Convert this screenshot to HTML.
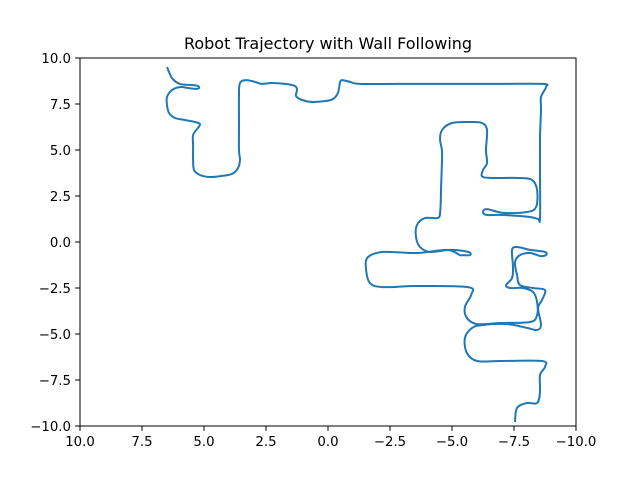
<!DOCTYPE html>
<html><head><meta charset="utf-8"><style>
body{margin:0;background:#fff}
svg{display:block;font-family:"DejaVu Sans","Liberation Sans",sans-serif}
</style></head><body>
<svg id="c" width="640" height="480"></svg>
<script>
const xs=[6.49,6.29,5.97,5.48,5.24,5.20,5.32,5.65,5.97,6.29,6.49,6.49,6.41,6.17,5.77,5.36,5.16,5.24,5.44,5.44,5.44,5.40,5.16,4.76,4.27,3.87,3.63,3.55,3.59,3.59,3.59,3.55,3.31,2.94,2.66,2.26,1.73,1.33,1.25,1.29,1.05,0.65,0.12,-0.20,-0.40,-0.48,-0.56,-0.89,-1.29,-2.90,-4.92,-6.94,-8.67,-8.79,-8.59,-8.59,-8.55,-8.55,-8.55,-8.47,-8.15,-7.06,-6.41,-6.25,-6.41,-7.06,-8.02,-8.39,-8.43,-8.23,-7.74,-6.94,-6.25,-6.25,-6.41,-6.37,-6.41,-6.21,-5.73,-5.00,-4.60,-4.52,-4.60,-4.56,-4.52,-4.40,-3.91,-3.59,-3.55,-3.71,-4.11,-4.92,-5.65,-5.73,-5.44,-5.32,-4.80,-3.59,-2.22,-1.61,-1.53,-1.69,-2.22,-3.59,-5.65,-5.77,-5.52,-5.60,-6.01,-6.94,-8.15,-8.43,-8.43,-8.27,-7.86,-7.34,-7.18,-7.42,-7.46,-7.42,-7.62,-8.15,-8.75,-8.79,-8.55,-8.15,-7.74,-7.54,-7.62,-7.74,-8.27,-8.75,-8.63,-8.47,-8.59,-8.43,-8.02,-7.22,-6.25,-5.81,-5.52,-5.60,-6.01,-6.94,-8.63,-8.75,-8.55,-8.55,-8.43,-8.02,-7.62,-7.54];
const ys=[9.51,8.91,8.59,8.53,8.48,8.37,8.32,8.37,8.42,8.26,7.88,7.45,7.01,6.74,6.63,6.52,6.41,6.20,5.82,5.27,4.46,3.91,3.64,3.53,3.59,3.70,4.02,4.46,5.00,6.36,7.99,8.64,8.80,8.70,8.59,8.64,8.59,8.48,8.26,7.93,7.72,7.61,7.66,7.77,8.10,8.64,8.80,8.70,8.59,8.59,8.59,8.59,8.59,8.42,7.88,7.17,5.71,3.91,1.30,1.25,1.36,1.47,1.47,1.63,1.79,1.58,1.63,1.90,2.83,3.37,3.48,3.48,3.53,3.91,4.29,5.00,6.09,6.47,6.52,6.47,6.09,5.54,4.84,2.99,1.58,1.30,1.30,0.92,0.27,-0.27,-0.54,-0.43,-0.54,-0.71,-0.71,-0.71,-0.43,-0.60,-0.54,-0.82,-1.41,-2.23,-2.45,-2.39,-2.45,-2.88,-3.53,-4.13,-4.46,-4.40,-4.35,-3.97,-3.26,-2.72,-2.50,-2.50,-2.34,-1.96,-1.36,-0.43,-0.27,-0.43,-0.54,-0.71,-0.76,-0.60,-0.71,-1.09,-1.79,-2.34,-2.50,-2.61,-3.15,-3.59,-4.51,-4.78,-4.67,-4.46,-4.51,-4.67,-5.22,-6.03,-6.47,-6.47,-6.47,-6.79,-7.23,-8.15,-8.75,-8.75,-9.02,-9.78];
const xTicks=[10,7.5,5,2.5,0,-2.5,-5,-7.5,-10];
const yTicks=[-10,-7.5,-5,-2.5,0,2.5,5,7.5,10];
const xLabels=["10.0","7.5","5.0","2.5","0.0","\u22122.5","\u22125.0","\u22127.5","\u221210.0"];
const yLabels=["\u221210.0","\u22127.5","\u22125.0","\u22122.5","0.0","2.5","5.0","7.5","10.0"];
const L=80,R=576,T=58,B=426;
const sx=v=>L+(10-v)/20*(R-L);
const sy=v=>T+(10-v)/20*(B-T);
const svg=document.getElementById('c');const NS='http://www.w3.org/2000/svg';
function mk(t,a,txt){const e=document.createElementNS(NS,t);for(const k in a)e.setAttribute(k,a[k]);if(txt!==undefined)e.textContent=txt;svg.appendChild(e);return e;}
const P=xs.map((x,i)=>[sx(x),sy(ys[i])]);
let d='M'+P[0][0].toFixed(1)+','+P[0][1].toFixed(1);
for(let i=0;i<P.length-1;i++){const p0=P[Math.max(0,i-1)],p1=P[i],p2=P[i+1],p3=P[Math.min(P.length-1,i+2)];
const c1=[p1[0]+(p2[0]-p0[0])/6,p1[1]+(p2[1]-p0[1])/6],c2=[p2[0]-(p3[0]-p1[0])/6,p2[1]-(p3[1]-p1[1])/6];
d+=` C${c1[0].toFixed(1)},${c1[1].toFixed(1)} ${c2[0].toFixed(1)},${c2[1].toFixed(1)} ${p2[0].toFixed(1)},${p2[1].toFixed(1)}`;}
const line=mk('path',{d:d,fill:'none',stroke:'#1f77b4','stroke-width':2,'stroke-linejoin':'round','stroke-linecap':'butt'});


const fr=mk('rect',{x:L,y:T,width:R-L,height:B-T,fill:'none',stroke:'#000','stroke-width':1});


xTicks.forEach((v,i)=>{const x=sx(v);
const t=mk('line',{x1:x,x2:x,y1:B,y2:B+4.9,stroke:'#000','stroke-width':1});


const l=mk('text',{x:x,y:B+20,'font-size':13.3,'text-anchor':'middle',fill:'#000'},xLabels[i]);

});
yTicks.forEach((v,i)=>{const y=sy(v);
const t=mk('line',{x1:L-4.9,x2:L,y1:y,y2:y,stroke:'#000','stroke-width':1});


const l=mk('text',{x:L-9,y:y+4.8,'font-size':13.3,'text-anchor':'end',fill:'#000'},yLabels[i]);

});
const ti=mk('text',{x:(L+R)/2,y:T-9,'font-size':16,'text-anchor':'middle',fill:'#000'},'Robot Trajectory with Wall Following');


</script>
</body></html>
